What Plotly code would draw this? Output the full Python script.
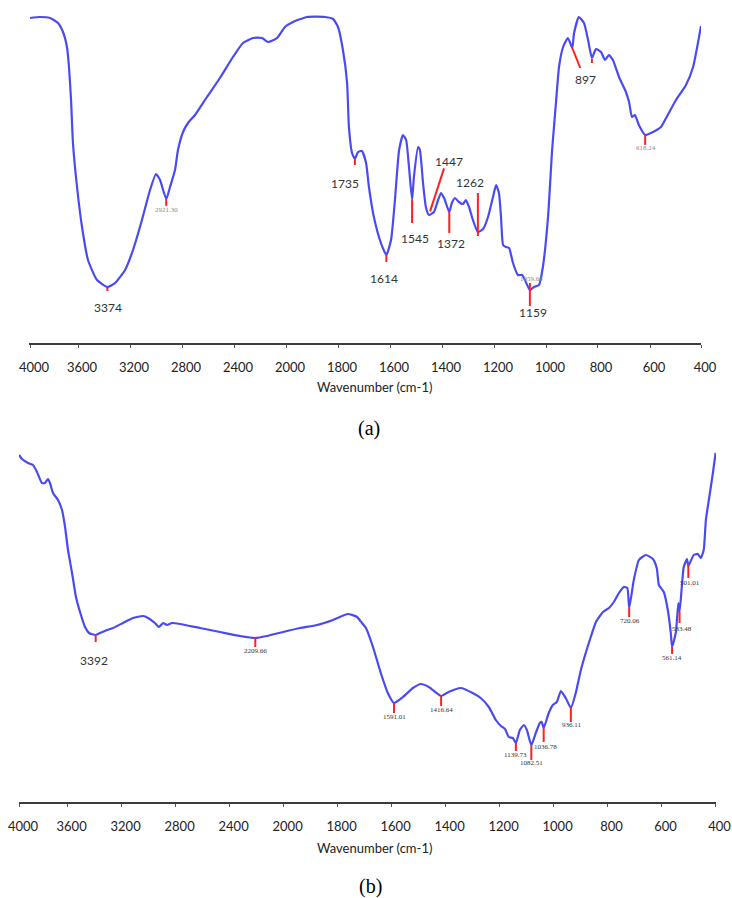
import numpy as np
import plotly.graph_objects as go

# ---------------- data ----------------
tick_wn = [4000, 3600, 3200, 2800, 2400, 2000, 1800, 1600, 1400, 1200, 1000, 800, 600, 400]
tick_labels = [str(v) for v in tick_wn]

# (a) spectrum: wavenumber (cm-1) and transmittance (arbitrary units)
wn_a = [4000, 3917, 3833, 3767, 3725, 3692, 3675, 3658, 3642, 3608, 3569, 3523, 3454, 3374,
        3315, 3238, 3177, 3108, 3046, 3000, 2969, 2921, 2892, 2854, 2831, 2792, 2754, 2700,
        2608, 2508, 2408, 2331, 2254, 2185, 2138, 2069, 2008, 1973, 1919, 1850, 1819, 1800,
        1781, 1765, 1758, 1746, 1735, 1723, 1708, 1692, 1681, 1662, 1635, 1614, 1596, 1581,
        1565, 1550, 1538, 1527, 1515, 1508, 1492, 1485, 1473, 1462, 1450, 1431, 1415, 1404,
        1392, 1372, 1362, 1350, 1335, 1319, 1308, 1296, 1281, 1262, 1242, 1223, 1204, 1192,
        1181, 1173, 1165, 1154, 1142, 1127, 1108, 1092, 1081, 1062, 1046, 1027, 1012, 992,
        976, 961, 949, 933, 914, 897, 890, 871, 851, 835, 820, 804, 785, 770, 755, 740, 717,
        691, 679, 668, 657, 642, 618, 588, 557, 537, 498, 459, 431, 400]
t_a = [325, 326, 325, 320, 311, 296, 276, 243, 200, 156, 116, 83, 63, 56,
       60, 73, 93, 123, 153, 169, 163, 144, 156, 173, 193, 211, 220, 228,
       246, 265, 286, 300, 305, 305, 301, 305, 316, 321, 326, 326, 324, 316,
       293, 260, 216, 190, 184, 191, 192, 180, 156, 126, 100, 88, 103, 143,
       193, 208, 203, 176, 143, 166, 196, 193, 160, 136, 128, 131, 143, 150,
       145, 131, 140, 145, 141, 139, 143, 136, 123, 111, 114, 126, 146, 158,
       150, 126, 98, 96, 95, 80, 68, 68, 63, 53, 56, 58, 76, 126,
       193, 240, 276, 296, 305, 295, 310, 326, 320, 303, 285, 294, 291, 283, 288, 283, 266,
       251, 241, 226, 228, 218, 208, 211, 216, 225, 243, 258, 276, 317]

# (b) spectrum
wn_b = [4000, 3975, 3926, 3885, 3852, 3811, 3786, 3761, 3745, 3720, 3679, 3646, 3621, 3597,
        3567, 3538, 3508, 3471, 3441, 3392, 3360, 3308, 3264, 3190, 3116, 3041, 3004, 2953,
        2923, 2893, 2864, 2827, 2767, 2619, 2471, 2323, 2209.66, 2123, 2004, 1939, 1876, 1817,
        1762, 1728, 1710, 1695, 1669, 1640, 1614, 1591.01, 1558, 1521, 1492, 1462, 1416.64,
        1389, 1344, 1300, 1270, 1240, 1214, 1195, 1180, 1166, 1151, 1139.73, 1125, 1110, 1099,
        1082.51, 1066, 1051, 1044, 1036.78, 1018, 1003, 988, 973, 955, 936.11, 918, 899, 880,
        866, 843, 817, 795, 777, 758, 740, 727, 720.06, 703, 684, 658, 632, 618, 610, 592, 577,
        566, 561.14, 547, 538, 533.48, 518, 506, 501.01, 481, 466, 455, 444, 436, 425, 410, 400]
t_b = [347, 343, 339, 337, 330, 319, 319, 323, 319, 309, 302, 292, 275, 252,
       229, 205, 190, 175, 169, 167, 169, 172, 174, 179, 184, 186, 184, 179,
       175, 179, 177, 179, 178, 174, 170, 166, 164, 166, 170, 174, 177, 182,
       188, 185, 179, 174, 155, 129, 109, 99, 105, 114, 118, 115, 106,
       110, 114, 109, 104, 95, 82, 76, 73, 65, 64, 59, 72, 77, 72,
       57, 69, 79, 80, 74, 89, 97, 100, 111, 104, 94, 109, 132, 150,
       162, 180, 190, 194, 200, 209, 215, 214, 194, 222, 242, 247, 243, 234, 217, 210, 192,
       169, 155, 170, 199, 190, 235, 243, 236, 247, 248, 244, 252, 282, 302, 329, 349]

# peak labels
peak_wn_a = [3374, 2921.30, 1735, 1614, 1515, 1446, 1372, 1262, 1062, 1062, 897, 820, 618.24]
peak_lab_a = ["3374", "2921.30", "1735", "1614", "1545", "1447", "1372", "1262", "1159",
              "1059.66", "897", "", "618.24"]
peak_wn_b = [3392, 2209.66, 1591.01, 1416.64, 1139.73, 1082.51, 1036.78, 936.11, 720.06,
             561.14, 533.48, 501.01]
peak_lab_b = ["3392", "2209.66", "1591.01", "1416.64", "1139.73", "1082.51", "1036.78",
              "936.11", "720.06", "561.14", "533.48", "501.01"]

# ---------------- layout / style ----------------
W, H = 732, 898
tick_u_a = [30, 78, 130, 182, 234, 286, 338, 390, 442, 494, 546, 597, 650, 701]
tick_u_b = [19, 67.6, 121.6, 175.6, 229.6, 283.6, 337.6, 391.6, 445.6, 499.6, 553.6,
            607.6, 661.6, 715.6]
# panel geometry (pixels)
ax_a = dict(left=29, right=701, top=0, bottom=343)
ax_b = dict(left=19, right=716, top=440, bottom=802)

# per-label style: (line dx, line y0, line x1, line y1, text dx, text dy, kind)  [px, down +]
sty_a = [(0, 0, 0, 4, 1, 20, "big"),
         (0, 0, 0, 7, 0, 11, "small"),
         (0, 0, 0, 6, -10, 24, "big"),
         (0, 0, 0, 7, -2, 23, "big"),
         (0, 0, 0, 23, 3, 38, "big"),
         (0, -3, 14, -46, 19, -53, "big"),
         (0, 0, 0, 21, 2, 31, "big"),
         (0, 4, 0, -39, -8, -50, "big"),
         (0, -7, 0, 16, 3, 22, "big"),
         (None, None, None, None, 2, -11, "small"),
         (0, 0, 8, 20, 13, 31, "big"),
         (0, 1, 0, 5, 0, 0, "none"),
         (0, 0, 0, 10, 1, 13, "small")]
sty_b = [(0, 1, 0, 7, -2, 25, "big"),
         (0, 0, 0, 9, 0, 13, "smallb"),
         (0, 0, 0, 10, 0, 14, "smallb"),
         (0, 0, 0, 10, 0, 14, "smallb"),
         (0, 0, 0, 8, 0, 12, "smallb"),
         (0, 0, 0, 15, 0, 18, "smallb"),
         (0, 0, 0, 14, 2, 19, "smallb"),
         (0, 0, 0, 14, 1, 17, "smallb"),
         (0, 0, 0, 9, 1, 13, "smallb"),
         (0, 0, 0, 7, 0, 11, "smallb"),
         (0, 0, 0, 11, 2, 17, "smallb"),
         (0, 0, 0, 12, 2, 17, "smallb")]

BLUE = "#4a4af2"
RED = "#ff1f1f"
fonts = {"big": dict(family="Lato, Open Sans, sans-serif", size=12, color="#333333"),
         "small": dict(family="Liberation Serif, serif", size=7, color="#8a8a8a"),
         "smallb": dict(family="Liberation Serif, serif", size=7, color="#333333")}


def to_u(wn, tick_u):
    return np.interp(-np.asarray(wn, float), -np.asarray(tick_wn, float), tick_u)


fig = go.Figure()
annotations = []

panels = [("x", "y", wn_a, t_a, tick_u_a, peak_wn_a, peak_lab_a, sty_a),
          ("x2", "y2", wn_b, t_b, tick_u_b, peak_wn_b, peak_lab_b, sty_b)]

for xr, yr, wn, tv, tu, pwn, plab, sty in panels:
    u = to_u(wn, tu)
    fig.add_trace(go.Scatter(x=u, y=tv, mode="lines", xaxis=xr, yaxis=yr,
                             line=dict(color=BLUE, width=2.2, shape="spline", smoothing=0.5),
                             hoverinfo="skip", showlegend=False))
    pu = to_u(pwn, tu)
    order = np.argsort(u)
    pv = np.interp(pu, np.asarray(u)[order], np.asarray(tv, float)[order])
    lx, ly = [], []
    for px_, pv_, lab, s in zip(pu, pv, plab, sty):
        dx0, y0, dx1, y1, tdx, tdy, kind = s
        if dx0 is not None:
            lx += [px_ + dx0, px_ + dx1, None]
            ly += [pv_ - y0, pv_ - y1, None]
        if lab and kind != "none":
            annotations.append(dict(x=px_ + tdx, y=pv_ - tdy, xref=xr, yref=yr, text=lab,
                                    showarrow=False, xanchor="center", yanchor="middle",
                                    font=fonts[kind]))
    fig.add_trace(go.Scatter(x=lx, y=ly, mode="lines", xaxis=xr, yaxis=yr,
                             line=dict(color=RED, width=2), hoverinfo="skip",
                             showlegend=False))


def xaxis_cfg(g, tu):
    return dict(domain=[g["left"] / W, g["right"] / W], range=[g["left"], g["right"]],
                tickmode="array", tickvals=tu, ticktext=tick_labels,
                showline=True, linecolor="#3c3c3c", linewidth=2,
                ticks="outside", ticklen=3, tickwidth=1, tickcolor="#555555",
                tickfont=dict(family="Lato, Open Sans, sans-serif", size=13, color="#222222"),
                ticklabelshift=4, ticklabelstandoff=8, automargin=False,
                showgrid=False, zeroline=False, fixedrange=True)


def yaxis_cfg(g):
    return dict(domain=[1 - g["bottom"] / H, 1 - g["top"] / H],
                range=[0, g["bottom"] - g["top"]], visible=False, fixedrange=True,
                automargin=False)


xa = xaxis_cfg(ax_a, tick_u_a)
xa["anchor"] = "y"
xb = xaxis_cfg(ax_b, tick_u_b)
xb["anchor"] = "y2"
ya = yaxis_cfg(ax_a)
ya["anchor"] = "x"
yb = yaxis_cfg(ax_b)
yb["anchor"] = "x2"

title_font = dict(family="Lato, Open Sans, sans-serif", size=13, color="#222222")
cap_font = dict(family="Liberation Serif, Times New Roman, serif", size=20, color="#000000")
for (txt, xp, yp, f) in [("Wavenumber (cm-1)", 374, 387, title_font),
                         ("(a)", 369, 428, cap_font),
                         ("Wavenumber (cm-1)", 374, 848, title_font),
                         ("(b)", 371, 886, cap_font)]:
    annotations.append(dict(x=xp / W, y=1 - yp / H, xref="paper", yref="paper", text=txt,
                            showarrow=False, xanchor="center", yanchor="middle", font=f))

fig.update_layout(width=W, height=H, margin=dict(l=0, r=0, t=0, b=0, autoexpand=False),
                  paper_bgcolor="white", plot_bgcolor="white",
                  xaxis=xa, yaxis=ya, xaxis2=xb, yaxis2=yb,
                  annotations=annotations, showlegend=False)

fig.write_html("out.html")
